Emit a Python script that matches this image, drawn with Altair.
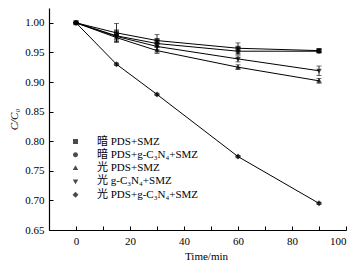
import altair as alt
import pandas as pd

t = [0, 15, 30, 60, 90]
series = ["暗 PDS+SMZ", "暗 PDS+g-C₃N₄+SMZ", "光 PDS+SMZ", "光 g-C₃N₄+SMZ", "光 PDS+g-C₃N₄+SMZ"]
dark_pds = [1.0, 0.983, 0.970, 0.957, 0.953]
dark_pds_cn = [1.0, 0.978, 0.965, 0.952, 0.952]
light_pds = [1.0, 0.975, 0.953, 0.925, 0.902]
light_cn = [1.0, 0.977, 0.960, 0.939, 0.919]
light_pds_cn = [1.0, 0.930, 0.879, 0.774, 0.695]
dark_pds_err = [0.0, 0.016, 0.010, 0.009, 0.003]
dark_pds_cn_err = [0.0, 0.010, 0.006, 0.006, 0.003]
light_pds_err = [0.0, 0.006, 0.005, 0.004, 0.004]
light_cn_err = [0.0, 0.006, 0.005, 0.005, 0.008]
light_pds_cn_err = [0.0, 0.002, 0.002, 0.002, 0.002]

vals = [dark_pds, dark_pds_cn, light_pds, light_cn, light_pds_cn]
errs = [dark_pds_err, dark_pds_cn_err, light_pds_err, light_cn_err, light_pds_cn_err]
rows = []
for s, v, e in zip(series, vals, errs):
    for ti, vi, ei in zip(t, v, e):
        rows.append({"t": ti, "c": vi, "lo": vi - ei, "hi": vi + ei, "s": s})
df = pd.DataFrame(rows)

FONT = "'Liberation Serif', 'Noto Sans CJK SC', serif"
W, H = 297, 222

xs = alt.Scale(domain=[-10, 100], nice=False, zero=False)
ys = alt.Scale(domain=[0.65, 1.025], nice=False, zero=False)

x_main = alt.X("t:Q", scale=xs, title="Time/min",
               axis=alt.Axis(orient="bottom", values=[0, 20, 40, 60, 80, 100], ticks=False, grid=False,
                             labelPadding=5, titlePadding=4, titleX=157, domainColor="black",
                             labelFont=FONT, titleFont=FONT))
y_main = alt.Y("c:Q", scale=ys, title="C/C₀",
               axis=alt.Axis(orient="left", values=[0.65, 0.70, 0.75, 0.80, 0.85, 0.90, 0.95, 1.00], format=".2f",
                             ticks=False, grid=False, labelPadding=5, domainColor="black",
                             titleFontStyle="italic", titlePadding=5,
                             labelFont=FONT, titleFont=FONT))

marker_paths = [
    "M-2.5,0H2.5M-0.5,-0.5H0.5V0.5H-0.5Z",
    "M-2.5,0H2.5M0.5,0A0.5,0.5 0 1,1 -0.5,0A0.5,0.5 0 1,1 0.5,0Z",
    "M-2.5,0H2.5M0,-0.55L0.55,0.4H-0.55Z",
    "M-2.5,0H2.5M0,0.55L0.55,-0.4H-0.55Z",
    "M-2.5,0H2.5M0,-0.6L0.6,0L0,0.6L-0.6,0Z",
]

base = alt.Chart(df)
xn = alt.X("t:Q", axis=None)

lines = base.mark_line(color="black", strokeWidth=1).encode(
    x=x_main, y=y_main, detail="s:N")

err_rule = base.mark_rule(color="black", strokeWidth=0.8).encode(
    x=xn, y=alt.Y("lo:Q", axis=None), y2="hi:Q")
cap_lo = base.mark_tick(color="black", orient="horizontal", size=5, thickness=0.8).encode(
    x=xn, y=alt.Y("lo:Q", axis=None))
cap_hi = base.mark_tick(color="black", orient="horizontal", size=5, thickness=0.8).encode(
    x=xn, y=alt.Y("hi:Q", axis=None))

x_ticks = alt.X("t:Q", axis=alt.Axis(
    orient="top", offset=-H, title=None, grid=False, labelOpacity=0, domainOpacity=0,
    tickColor="black", tickSize=4, tickCount=11))
y_ticks = alt.Y("c:Q", axis=alt.Axis(
    orient="right", offset=-W, title=None, grid=False, labelOpacity=0, domainOpacity=0,
    tickColor="black", tickSize=4, tickCount=8))

points = base.mark_point(filled=True, color="black", size=100).encode(
    x=x_ticks, y=y_ticks,
    shape=alt.Shape("s:N", scale=alt.Scale(domain=series, range=marker_paths),
                    legend=alt.Legend(title=None, orient="none", legendX=21, legendY=128,
                                      symbolFillColor="black",
                                      symbolStrokeColor="black", symbolStrokeWidth=1,
                                      symbolSize=100, labelOffset=16, rowPadding=1.3,
                                      labelFontSize=11, labelFont=FONT, padding=0)))

chart = alt.layer(lines, err_rule, cap_lo, cap_hi, points).properties(
    width=W, height=H,
    autosize=alt.AutoSizeParams(type="none"),
    padding={"left": 41, "top": 0, "right": 8, "bottom": 36},
).configure(font=FONT).configure_view(stroke=None).configure_axis(
    labelFont=FONT, titleFont=FONT, labelFontSize=11, titleFontSize=11,
    labelColor="black", titleColor="black", titleFontWeight="normal",
    domainColor="black", tickColor="black", domainWidth=1.2
)

chart.save("out.html", embed_options={"renderer": "svg", "actions": False})
